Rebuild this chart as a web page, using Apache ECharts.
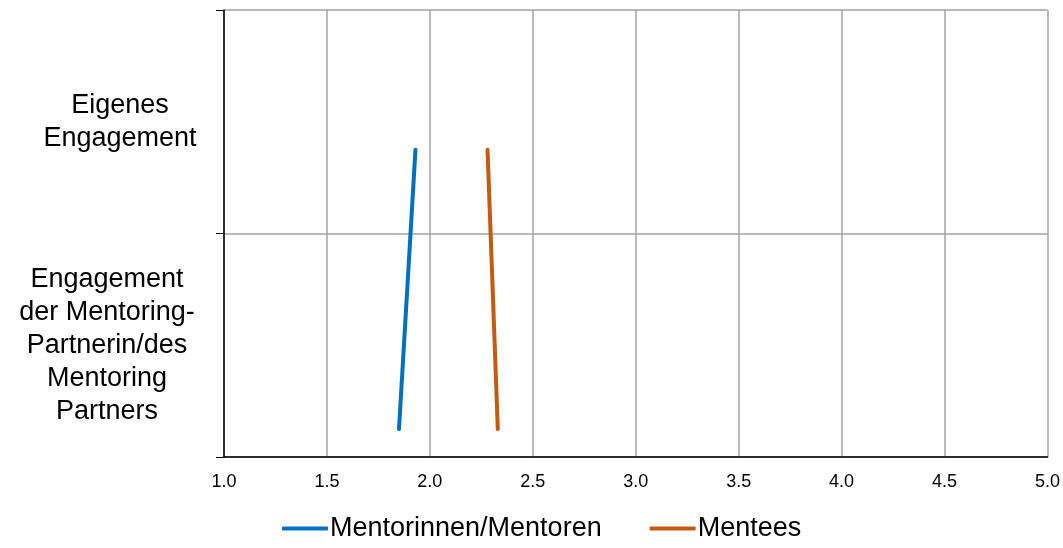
<!DOCTYPE html>
<html>
<head>
<meta charset="utf-8">
<script src="https://cdn.jsdelivr.net/npm/echarts@6/dist/echarts.min.js"></script>
<style>
  html, body { margin: 0; padding: 0; background: #fff; }
  #chart { width: 1063px; height: 548px; }
</style>
</head>
<body>
<div id="chart"></div>
<script>
// Rating categories, top to bottom
const categories = ['Eigenes\nEngagement', 'Engagement\nder Mentoring-\nPartnerin/des\nMentoring\nPartners'];
// Vertical position of each series' points within the rows (0 = top, 2 = bottom)
const rowPositions = [0.625, 1.875];
// Mean ratings (scale 1–5)
const mentorValues = [1.93, 1.85];
const menteeValues = [2.28, 2.33];
const seriesNames = ['Mentorinnen/Mentoren', 'Mentees'];
const xTicks = { min: 1, max: 5, interval: 0.5 };

const chart = echarts.init(document.getElementById('chart'));
const font = 'Liberation Sans, Arial, sans-serif';
const gridColor = '#a3a3a3';

function pairs(values) {
  return values.map((v, i) => [v, rowPositions[i]]);
}

chart.setOption({
  animation: false,
  textStyle: { fontFamily: font },
  grid: { left: 224, right: 15, top: 10, bottom: 91, containLabel: false },
  legend: {
    bottom: 1,
    left: 277,
    itemWidth: 46,
    itemHeight: 4,
    itemGap: 48,
    icon: 'roundRect',
    textStyle: { fontSize: 27, color: '#000', fontFamily: font, padding: [0, 0, 0, -3] },
    data: seriesNames
  },
  xAxis: {
    type: 'value',
    min: xTicks.min, max: xTicks.max, interval: xTicks.interval,
    axisLine: { show: true, onZero: false, lineStyle: { color: '#000', width: 1.5 } },
    axisTick: { show: false },
    splitLine: { show: true, lineStyle: { color: gridColor, width: 1.5 } },
    axisLabel: {
      margin: 16, fontSize: 18, color: '#000',
      formatter: v => v.toFixed(1)
    }
  },
  yAxis: [
    {
      type: 'category',
      inverse: true,
      data: categories,
      boundaryGap: true,
      axisLine: { show: true, lineStyle: { color: '#000', width: 1.5 } },
      axisTick: { show: true, length: 8, alignWithLabel: false, lineStyle: { color: '#000' } },
      splitLine: { show: true, lineStyle: { color: gridColor, width: 1.5 } },
      axisLabel: {
        margin: 104,
        align: 'center',
        formatter: (v, i) => v.split('\n').map(s => (i === 0 ? '{a|' : '{b|') + s + '}').join('\n'),
        rich: {
          a: { fontSize: 27, lineHeight: 33, color: '#000', fontFamily: font },
          b: { fontSize: 27, lineHeight: 33, color: '#000', fontFamily: font, padding: [0, 26, 0, 0] }
        }
      }
    },
    {
      type: 'value',
      inverse: true,
      min: 0, max: 2,
      show: false
    }
  ],
  series: [
    {
      name: seriesNames[0],
      type: 'line',
      yAxisIndex: 1,
      data: pairs(mentorValues),
      showSymbol: false,
      symbol: 'none',
      color: '#0070C0',
      lineStyle: { width: 4, cap: 'round' }
    },
    {
      name: seriesNames[1],
      type: 'line',
      yAxisIndex: 1,
      data: pairs(menteeValues),
      showSymbol: false,
      symbol: 'none',
      color: '#C55A11',
      lineStyle: { width: 4, cap: 'round' }
    }
  ]
});
</script>
</body>
</html>
